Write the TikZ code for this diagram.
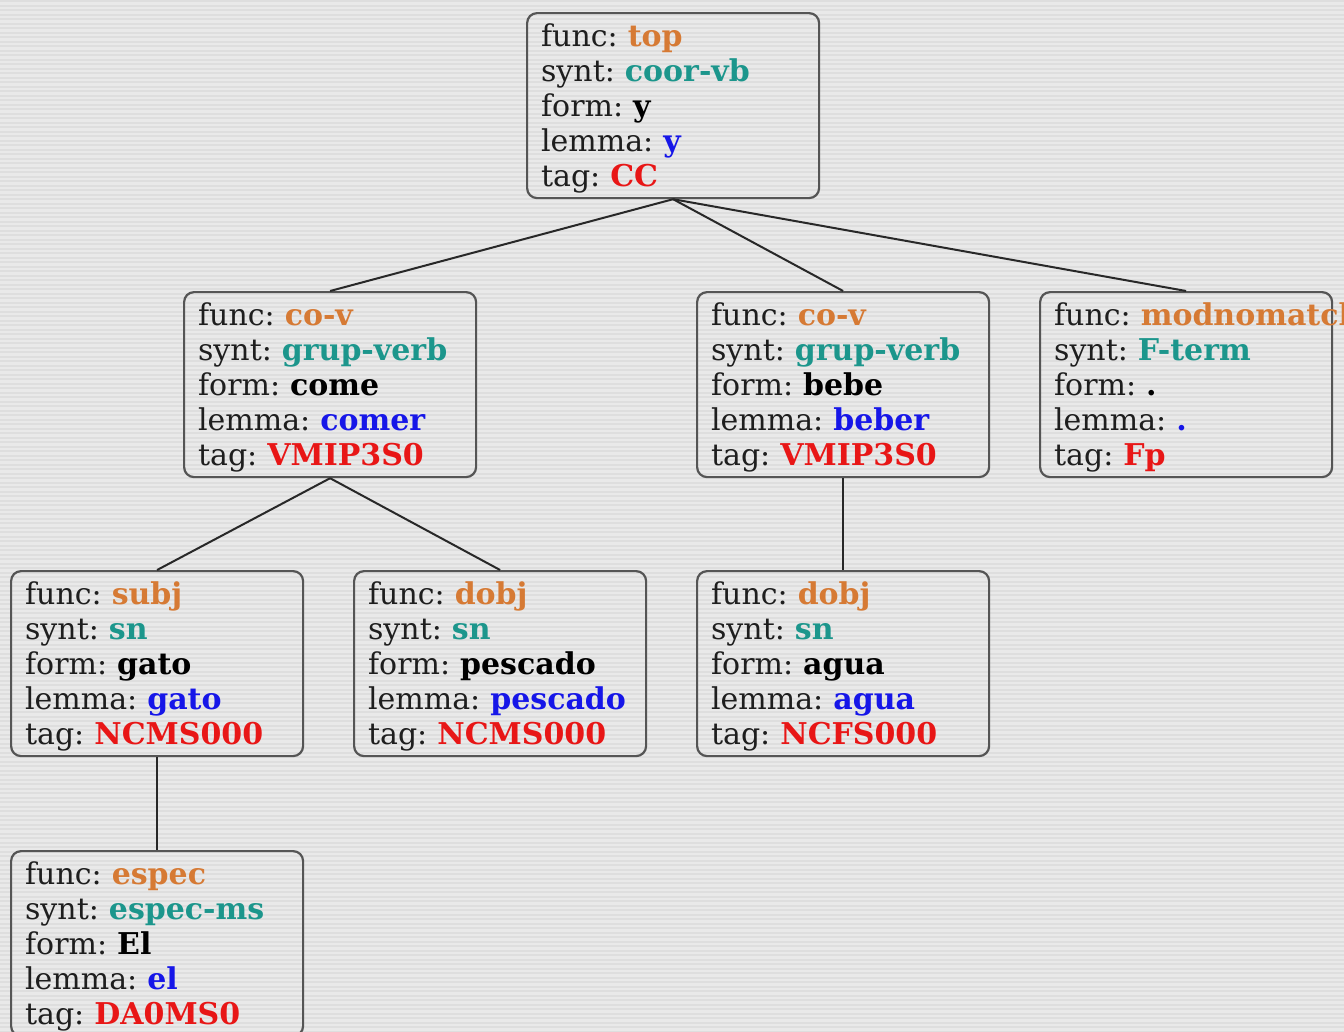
\documentclass[tikz,border=0pt]{standalone}
\usepackage{fontspec}
\setmainfont{DejaVu Serif}
\definecolor{bgc}{RGB}{233,233,233}
\definecolor{stripec}{RGB}{222,222,222}
\definecolor{funcc}{RGB}{214,122,52}
\definecolor{syntc}{RGB}{28,150,140}
\definecolor{lemmac}{RGB}{22,22,232}
\definecolor{tagc}{RGB}{232,22,22}
\definecolor{labc}{RGB}{30,30,30}
\definecolor{boxc}{RGB}{85,85,85}
\definecolor{edgec}{RGB}{40,40,40}
\newcommand\tokbox[5]{%
\mbox{\rule{0pt}{28pt}func: \textcolor{funcc}{\textbf{#1}}}\\
\mbox{synt: \textcolor{syntc}{\textbf{#2}}}\\
\mbox{form: \textcolor{black}{\textbf{#3}}}\\
\mbox{lemma: \textcolor{lemmac}{\textbf{#4}}}\\
\mbox{tag: \textcolor{tagc}{\textbf{#5}}}}
\tikzset{
  tok/.style={draw=boxc, line width=2.2pt, rounded corners=10pt,
    anchor=north west, minimum width=292pt, minimum height=185pt,
    text width=264pt, inner xsep=14pt, inner ysep=0pt, align=left,
    text=labc, font=\fontsize{30}{35}\selectfont\frenchspacing},
  link/.style={draw=edgec, line width=2pt},
  stripe/.style={draw=stripec, line width=2pt}
}
\begin{document}
\begin{tikzpicture}[x=1pt,y=-1pt]
\useasboundingbox (0,0) rectangle (1344,1031);
\clip (0,0) rectangle (1344,1031);
\fill[bgc] (0,0) rectangle (1344,1031);
\foreach \k in {0,...,229} \draw[stripe] (0,{\k*4.5+1}) -- (1344,{\k*4.5+1});
\node[tok] (top) at (526,12) {\tokbox{top}{coor-vb}{y}{y}{CC}};
\node[tok] (a1) at (183,291) {\tokbox{co-v}{grup-verb}{come}{comer}{VMIP3S0}};
\node[tok] (a2) at (696,291) {\tokbox{co-v}{grup-verb}{bebe}{beber}{VMIP3S0}};
\node[tok] (a3) at (1039,291) {\tokbox{modnomatch}{F-term}{.}{.}{Fp}};
\node[tok] (b1) at (10,570) {\tokbox{subj}{sn}{gato}{gato}{NCMS000}};
\node[tok] (b2) at (353,570) {\tokbox{dobj}{sn}{pescado}{pescado}{NCMS000}};
\node[tok] (b3) at (696,570) {\tokbox{dobj}{sn}{agua}{agua}{NCFS000}};
\node[tok] (c1) at (10,850) {\tokbox{espec}{espec-ms}{El}{el}{DA0MS0}};
\draw[link] (top.south) -- (a1.north);
\draw[link] (top.south) -- (a2.north);
\draw[link] (top.south) -- (a3.north);
\draw[link] (a1.south) -- (b1.north);
\draw[link] (a1.south) -- (b2.north);
\draw[link] (a2.south) -- (b3.north);
\draw[link] (b1.south) -- (c1.north);
\end{tikzpicture}
\end{document}
